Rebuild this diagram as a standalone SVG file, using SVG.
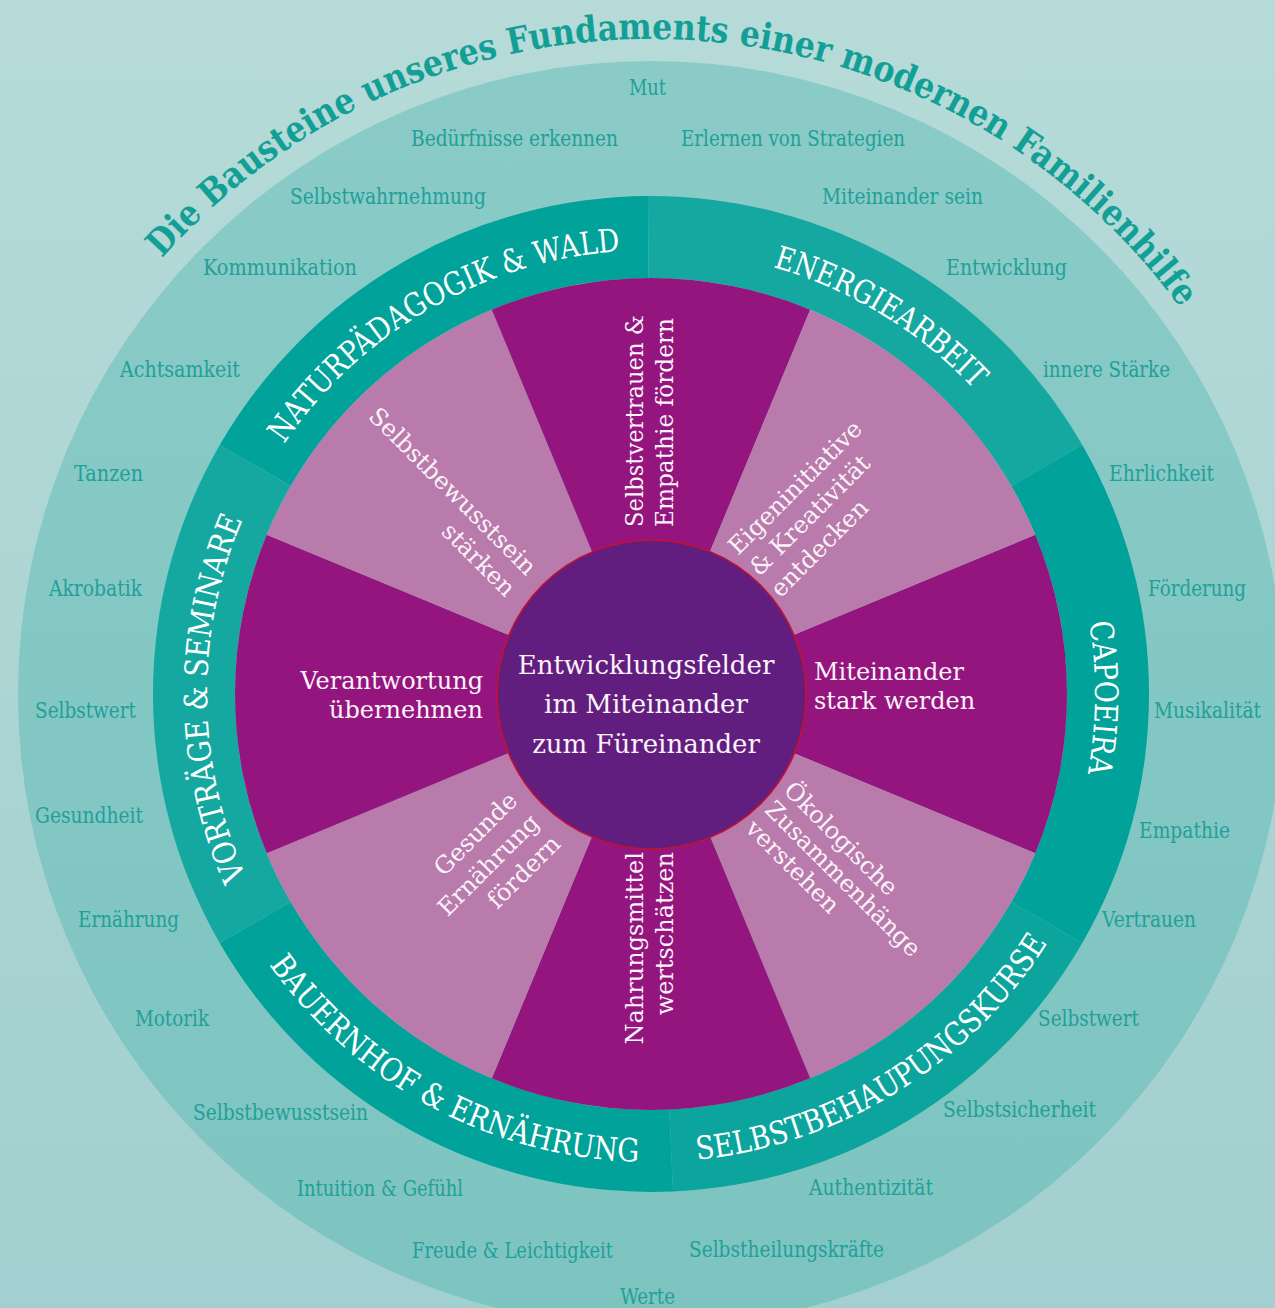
<svg xmlns="http://www.w3.org/2000/svg" width="1275" height="1308" viewBox="0 0 1275 1308">
<defs>
  <linearGradient id="bg" x1="0" y1="0" x2="0" y2="1">
    <stop offset="0" stop-color="#b6dbd9"/>
    <stop offset="1" stop-color="#a2cfcf"/>
  </linearGradient>
  <linearGradient id="outerFill" x1="0" y1="0" x2="0" y2="1">
    <stop offset="0" stop-color="#8acbc7"/>
    <stop offset="1" stop-color="#7dc4c1"/>
  </linearGradient>
  <path id="cw" d="M651,1138 A444,444 0 1 1 651,250 A444,444 0 1 1 651,1138"/>
  <path id="ccw" d="M651,226 A468,468 0 1 0 651,1162 A468,468 0 1 0 651,226"/>
  <path id="titlePath" d="M161.95,258.27 A655,655 0 0 1 1180.9,309"/>
</defs>
<style>
  .lbl { font-family: "DejaVu Serif", "Liberation Serif", serif; font-size: 22px; fill: #22a098; }
  .ring { font-family: "DejaVu Serif", "Liberation Serif", serif; font-size: 32px; fill: #ffffff; }
  .seg { font-family: "DejaVu Serif", "Liberation Serif", serif; font-size: 24px; fill: #fbf2fa; }
  .ctr { font-family: "DejaVu Serif", "Liberation Serif", serif; font-size: 26px; fill: #fbf2fa; text-anchor: middle; }
  .title { font-family: "DejaVu Serif", "Liberation Serif", serif; font-weight: bold; font-size: 36px; fill: #12a096; }
  .purple { fill: #93157d; }
  .pink { fill: #b97bab; }
  .rdark { fill: #00a29a; }
  .rlight { fill: #14a8a1; }
</style>

<rect x="0" y="0" width="1275" height="1308" fill="url(#bg)"/>
<circle id="outer-circle" cx="651" cy="694" r="633" fill="url(#outerFill)"/>

<g id="title">
  <text class="title"><textPath href="#titlePath" textLength="1168" lengthAdjust="spacingAndGlyphs">Die Bausteine unseres Fundaments einer modernen Familienhilfe</textPath></text>
</g>

<g id="outer-labels">
  <text class="lbl" x="629" y="95" textLength="37" lengthAdjust="spacingAndGlyphs">Mut</text>
  <text class="lbl" x="411" y="146" textLength="207" lengthAdjust="spacingAndGlyphs">Bedürfnisse erkennen</text>
  <text class="lbl" x="681" y="146" textLength="224" lengthAdjust="spacingAndGlyphs">Erlernen von Strategien</text>
  <text class="lbl" x="290" y="204" textLength="196" lengthAdjust="spacingAndGlyphs">Selbstwahrnehmung</text>
  <text class="lbl" x="822" y="204" textLength="161" lengthAdjust="spacingAndGlyphs">Miteinander sein</text>
  <text class="lbl" x="203" y="275" textLength="154" lengthAdjust="spacingAndGlyphs">Kommunikation</text>
  <text class="lbl" x="946" y="275" textLength="121" lengthAdjust="spacingAndGlyphs">Entwicklung</text>
  <text class="lbl" x="120" y="377" textLength="120" lengthAdjust="spacingAndGlyphs">Achtsamkeit</text>
  <text class="lbl" x="1043" y="377" textLength="127" lengthAdjust="spacingAndGlyphs">innere Stärke</text>
  <text class="lbl" x="74" y="481" textLength="69" lengthAdjust="spacingAndGlyphs">Tanzen</text>
  <text class="lbl" x="1109" y="481" textLength="105" lengthAdjust="spacingAndGlyphs">Ehrlichkeit</text>
  <text class="lbl" x="49" y="596" textLength="93" lengthAdjust="spacingAndGlyphs">Akrobatik</text>
  <text class="lbl" x="1148" y="596" textLength="98" lengthAdjust="spacingAndGlyphs">Förderung</text>
  <text class="lbl" x="35" y="718" textLength="101" lengthAdjust="spacingAndGlyphs">Selbstwert</text>
  <text class="lbl" x="1154" y="718" textLength="107" lengthAdjust="spacingAndGlyphs">Musikalität</text>
  <text class="lbl" x="35" y="823" textLength="108" lengthAdjust="spacingAndGlyphs">Gesundheit</text>
  <text class="lbl" x="1139" y="838" textLength="91" lengthAdjust="spacingAndGlyphs">Empathie</text>
  <text class="lbl" x="78" y="927" textLength="101" lengthAdjust="spacingAndGlyphs">Ernährung</text>
  <text class="lbl" x="1102" y="927" textLength="94" lengthAdjust="spacingAndGlyphs">Vertrauen</text>
  <text class="lbl" x="135" y="1026" textLength="74" lengthAdjust="spacingAndGlyphs">Motorik</text>
  <text class="lbl" x="1038" y="1026" textLength="101" lengthAdjust="spacingAndGlyphs">Selbstwert</text>
  <text class="lbl" x="193" y="1120" textLength="175" lengthAdjust="spacingAndGlyphs">Selbstbewusstsein</text>
  <text class="lbl" x="943" y="1117" textLength="153" lengthAdjust="spacingAndGlyphs">Selbstsicherheit</text>
  <text class="lbl" x="297" y="1196" textLength="166" lengthAdjust="spacingAndGlyphs">Intuition &amp; Gefühl</text>
  <text class="lbl" x="809" y="1195" textLength="124" lengthAdjust="spacingAndGlyphs">Authentizität</text>
  <text class="lbl" x="412" y="1258" textLength="201" lengthAdjust="spacingAndGlyphs">Freude &amp; Leichtigkeit</text>
  <text class="lbl" x="689" y="1257" textLength="195" lengthAdjust="spacingAndGlyphs">Selbstheilungskräfte</text>
  <text class="lbl" x="620" y="1304" textLength="55" lengthAdjust="spacingAndGlyphs">Werte</text>
</g>

<g id="ring-naturpaedagogik">
  <path class="rdark" d="M219.7,445 A498,498 0 0 1 648,196 L648.5,278 A416,416 0 0 0 290.7,486 Z"/>
  <text class="ring"><textPath href="#cw" startOffset="962.8" textLength="401" lengthAdjust="spacingAndGlyphs">NATURPÄDAGOGIK &amp; WALD</textPath></text>
</g>
<g id="ring-energiearbeit">
  <path class="rlight" d="M648,196 A498,498 0 0 1 1082.3,445 L1011.3,486 A416,416 0 0 0 648.5,278 Z"/>
  <text class="ring"><textPath href="#cw" startOffset="1518.1" textLength="238" lengthAdjust="spacingAndGlyphs">ENERGIEARBEIT</textPath></text>
</g>
<g id="ring-capoeira">
  <path class="rdark" d="M1082.3,445 A498,498 0 0 1 1082.3,943 L1011.3,902 A416,416 0 0 0 1011.3,486 Z"/>
  <text class="ring"><textPath href="#cw" startOffset="2019.7" textLength="152" lengthAdjust="spacingAndGlyphs">CAPOEIRA</textPath></text>
</g>
<g id="ring-selbstbehauptungskurse">
  <path class="rlight" d="M1082.3,943 A498,498 0 0 1 673,1191.5 L669.4,1109.6 A416,416 0 0 0 1011.3,902 Z" style="fill:#0ba59e"/>
  <text class="ring"><textPath href="#ccw" startOffset="1516" textLength="427" lengthAdjust="spacingAndGlyphs">SELBSTBEHAUPUNGSKURSE</textPath></text>
</g>
<g id="ring-bauernhof">
  <path class="rdark" d="M673,1191.5 A498,498 0 0 1 219.7,943 L290.7,902 A416,416 0 0 0 669.4,1109.6 Z"/>
  <text class="ring"><textPath href="#ccw" startOffset="1023.5" textLength="434" lengthAdjust="spacingAndGlyphs">BAUERNHOF &amp; ERNÄHRUNG</textPath></text>
</g>
<g id="ring-vortraege">
  <path class="rlight" d="M219.7,943 A498,498 0 0 1 219.7,445 L290.7,486 A416,416 0 0 0 290.7,902 Z"/>
  <text class="ring"><textPath href="#cw" startOffset="508.7" textLength="368" lengthAdjust="spacingAndGlyphs">VORTRÄGE &amp; SEMINARE</textPath></text>
</g>

<g id="seg-miteinander">
  <path class="purple" d="M651,694 L1035.33,534.8 A416,416 0 0 1 1035.33,853.2 Z"/>
  <text class="seg"><tspan x="814" y="680">Miteinander</tspan><tspan x="814" y="709">stark werden</tspan></text>
</g>
<g id="seg-oekologische">
  <path class="pink" d="M651,694 L1035.33,853.2 A416,416 0 0 1 810.2,1078.33 Z"/>
  <text class="seg" transform="translate(651,694) rotate(45)"><tspan x="162" y="-24">Ökologische</tspan><tspan x="162" y="3">Zusammenhänge</tspan><tspan x="162" y="30">verstehen</tspan></text>
</g>
<g id="seg-nahrungsmittel">
  <path class="purple" d="M651,694 L810.2,1078.33 A416,416 0 0 1 491.8,1078.33 Z"/>
  <text class="seg" transform="translate(651,694) rotate(-90)" text-anchor="end"><tspan x="-158" y="-8">Nahrungsmittel</tspan><tspan x="-158" y="22">wertschätzen</tspan></text>
</g>
<g id="seg-gesunde">
  <path class="pink" d="M651,694 L491.8,1078.33 A416,416 0 0 1 266.67,853.2 Z"/>
  <text class="seg" transform="translate(651,694) rotate(-45)" text-anchor="end"><tspan x="-170" y="-17">Gesunde</tspan><tspan x="-170" y="14">Ernährung</tspan><tspan x="-170" y="44">fördern</tspan></text>
</g>
<g id="seg-verantwortung">
  <path class="purple" d="M651,694 L266.67,853.2 A416,416 0 0 1 266.67,534.8 Z"/>
  <text class="seg" text-anchor="end"><tspan x="483" y="689">Verantwortung</tspan><tspan x="483" y="718">übernehmen</tspan></text>
</g>
<g id="seg-selbstbewusstsein">
  <path class="pink" d="M651,694 L266.67,534.8 A416,416 0 0 1 491.8,309.67 Z"/>
  <text class="seg" transform="translate(651,694) rotate(45)" text-anchor="end"><tspan x="-171" y="5">Selbstbewusstsein</tspan><tspan x="-171" y="35">stärken</tspan></text>
</g>
<g id="seg-selbstvertrauen">
  <path class="purple" d="M651,694 L491.8,309.67 A416,416 0 0 1 810.2,309.67 Z"/>
  <text class="seg" transform="translate(651,694) rotate(-90)"><tspan x="167" y="-8" textLength="212" lengthAdjust="spacingAndGlyphs">Selbstvertrauen &amp;</tspan><tspan x="167" y="22" textLength="209" lengthAdjust="spacingAndGlyphs">Empathie fördern</tspan></text>
</g>
<g id="seg-eigeninitiative">
  <path class="pink" d="M651,694 L810.2,309.67 A416,416 0 0 1 1035.33,534.8 Z"/>
  <text class="seg" transform="translate(651,694) rotate(-45)"><tspan x="159" y="-36">Eigeninitiative</tspan><tspan x="159" y="-6">&amp; Kreativität</tspan><tspan x="159" y="24">entdecken</tspan></text>
</g>

<g id="center">
  <circle cx="651.5" cy="694.5" r="154.5" fill="#621e7e" stroke="#c8102e" stroke-width="1.5"/>
  <text class="ctr"><tspan x="646" y="674">Entwicklungsfelder</tspan><tspan x="646" y="713">im Miteinander</tspan><tspan x="646" y="753">zum Füreinander</tspan></text>
</g>

<g id="connectors"/>
</svg>
